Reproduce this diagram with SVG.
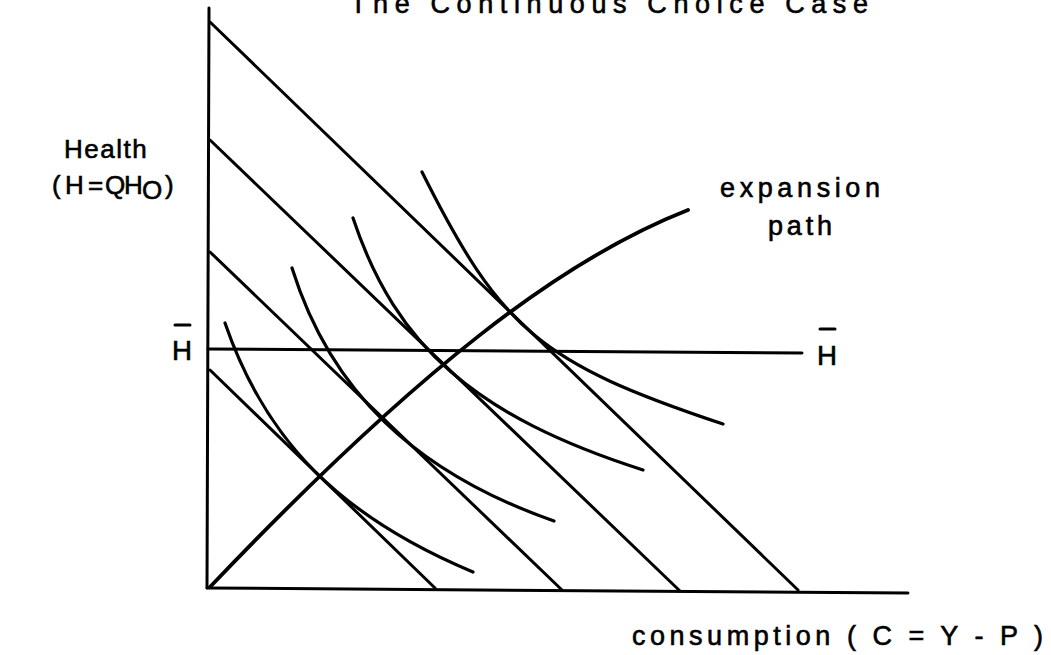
<svg xmlns="http://www.w3.org/2000/svg" width="1051" height="655" viewBox="0 0 1051 655">
<style>
.ln{fill:none;stroke:#000;stroke-width:3;stroke-linecap:round;stroke-linejoin:round}
.cv{fill:none;stroke:#000;stroke-width:3.2;stroke-linecap:round}
.tx{font-family:"Liberation Sans",Arial,sans-serif;font-size:27px;fill:#000;stroke:#000;stroke-width:0.6}
.lb{font-family:"Liberation Sans",Arial,sans-serif;font-size:26px;fill:#000;stroke:#000;stroke-width:0.6}
</style>
<rect width="1051" height="655" fill="#fff"/>
<g id="title"><text class="tx" x="350" y="13" textLength="518" lengthAdjust="spacing">The Continuous Choice Case</text></g>
<g id="axes">
<line class="ln" x1="209" y1="8" x2="207" y2="588"/>
<line class="ln" x1="207" y1="588" x2="908" y2="593"/>
</g>
<g id="budget-lines">
<line class="ln" x1="210" y1="22" x2="798" y2="590"/>
<line class="ln" x1="210" y1="140" x2="680" y2="591"/>
<line class="ln" x1="210" y1="252" x2="562" y2="590"/>
<line class="ln" x1="210" y1="370" x2="435" y2="588"/>
</g>
<g id="hbar-line"><line class="ln" x1="208" y1="349" x2="802" y2="353"/></g>
<g id="indifference-curves">
<path class="cv" d="M422,172 C501.2,330.3 540.3,363.1 723,424"/>
<path class="cv" d="M353,218 C396.1,347.1 475.8,416.4 643,470"/>
<path class="cv" d="M292,268 C330.5,391.1 414.3,472 554,521"/>
<path class="cv" d="M225,323 C265.9,441.6 340.3,516.3 473,572"/>
</g>
<g id="expansion-path"><path class="cv" style="stroke-width:3.8" d="M210,587 C415,372 560,260 688,210"/></g>
<g id="labels">
<text class="lb" x="64" y="158" letter-spacing="1.5">Health</text>
<g id="y-axis-formula">
<text class="lb" x="52" y="194">(</text>
<text class="lb" x="65" y="194">H</text>
<text class="lb" x="88" y="194">=</text>
<text class="lb" x="105" y="194">Q</text>
<text class="lb" x="124" y="194">H</text>
<text class="lb" x="142" y="199" font-size="18">O</text>
<text class="lb" x="165" y="194">)</text>
</g>
<text class="tx" x="172" y="360" font-size="30" textLength="20" lengthAdjust="spacingAndGlyphs">H</text>
<line class="ln" x1="175" y1="325" x2="190" y2="325"/>
<text class="tx" x="817" y="365" font-size="30" textLength="20" lengthAdjust="spacingAndGlyphs">H</text>
<line class="ln" x1="820" y1="329" x2="835" y2="329"/>
<text class="tx" x="720" y="197" textLength="160" lengthAdjust="spacing">expansion</text>
<text class="tx" x="768" y="235" textLength="64" lengthAdjust="spacing">path</text>
<text class="tx" x="632" y="645" textLength="411" lengthAdjust="spacing">consumption  ( C = Y - P )</text>
</g>
</svg>
